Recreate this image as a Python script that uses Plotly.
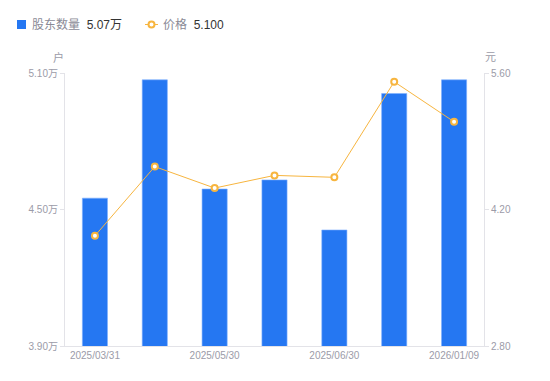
import plotly.graph_objects as go

dates = ["2025/03/31", "2025/04/30", "2025/05/30", "2025/06/20",
         "2025/06/30", "2025/09/30", "2026/01/09"]
holders_wan = [4.55, 5.07, 4.59, 4.63, 4.41, 5.01, 5.07]
price = [3.93, 4.64, 4.42, 4.55, 4.53, 5.51, 5.10]

left_ticks = [3.90, 4.50, 5.10]
left_ticktext = ["3.90万", "4.50万", "5.10万"]
right_ticks = [2.80, 4.20, 5.60]
right_ticktext = ["2.80", "4.20", "5.60"]
x_tickvals = ["2025/03/31", "2025/05/30", "2025/06/30", "2026/01/09"]

legend_holders = "股东数量"
legend_holders_val = "5.07万"
legend_price = "价格"
legend_price_val = "5.100"

BLUE = "#2577f2"
ORANGE = "#f7b53f"
GRAY = "#9b9ba8"
AXIS = "#e3e3e8"
FONT = "Liberation Sans, Noto Sans CJK SC, sans-serif"

W, H = 550, 381
ML, MR, MT, MB = 65, 66, 73, 35
PW, PH = W - ML - MR, H - MT - MB


def px_x(px):
    return (px - ML) / PW


def px_y(py):
    return (H - MB - py) / PH


fig = go.Figure()
fig.add_trace(go.Bar(
    x=dates, y=holders_wan, name=legend_holders,
    marker=dict(color=BLUE, line=dict(color="#7fb0ff", width=0.6)),
    width=0.42, yaxis="y",
))
fig.add_trace(go.Scatter(
    x=dates, y=price, name=legend_price,
    mode="lines+markers",
    line=dict(color=ORANGE, width=1),
    marker=dict(size=6, color="white", line=dict(color=ORANGE, width=2)),
    yaxis="y2",
))

ly = 24.5
shapes = [
    dict(type="rect", xref="paper", yref="paper",
         x0=px_x(17), x1=px_x(26), y0=px_y(29), y1=px_y(20),
         fillcolor=BLUE, line=dict(width=0)),
    dict(type="line", xref="paper", yref="paper",
         x0=px_x(145), x1=px_x(158), y0=px_y(ly), y1=px_y(ly),
         line=dict(color=ORANGE, width=1)),
    dict(type="circle", xref="paper", yref="paper",
         xsizemode="pixel", ysizemode="pixel",
         xanchor=px_x(151.5), yanchor=px_y(ly), x0=-3, x1=3, y0=-3, y1=3,
         fillcolor="white", line=dict(color=ORANGE, width=2)),
]

annotations = [
    dict(text=f"{legend_holders}  <span style='color:#333333'>{legend_holders_val}</span>",
         xref="paper", yref="paper", x=px_x(30), y=px_y(ly), xanchor="left", yanchor="middle",
         showarrow=False, font=dict(size=12, color="#8a8a96")),
    dict(text=f"{legend_price}  <span style='color:#333333'>{legend_price_val}</span>",
         xref="paper", yref="paper", x=px_x(161), y=px_y(ly), xanchor="left", yanchor="middle",
         showarrow=False, font=dict(size=12, color="#8a8a96")),
    dict(text="户", xref="paper", yref="paper", x=px_x(58), y=px_y(57), xanchor="center",
         yanchor="middle", showarrow=False, font=dict(size=11, color=GRAY)),
    dict(text="元", xref="paper", yref="paper", x=px_x(490), y=px_y(57), xanchor="center",
         yanchor="middle", showarrow=False, font=dict(size=11, color=GRAY)),
]

fig.update_layout(
    width=W, height=H,
    margin=dict(l=ML, r=MR, t=MT, b=MB),
    paper_bgcolor="white", plot_bgcolor="white",
    font=dict(family=FONT, size=10, color=GRAY),
    showlegend=False,
    bargap=0.5,
    xaxis=dict(
        type="category", tickmode="array", tickvals=x_tickvals,
        showline=True, linecolor=AXIS, linewidth=1,
        ticks="", showgrid=False, tickfont=dict(size=10, color=GRAY),
    ),
    yaxis=dict(
        range=[3.90, 5.10], tickmode="array", tickvals=left_ticks, ticktext=left_ticktext,
        showline=True, linecolor=AXIS, linewidth=1, ticks="outside", ticklen=4,
        tickcolor=AXIS, showgrid=False, zeroline=False, tickfont=dict(size=10, color=GRAY),
    ),
    yaxis2=dict(
        range=[2.80, 5.60], tickmode="array", tickvals=right_ticks, ticktext=right_ticktext,
        overlaying="y", side="right",
        showline=True, linecolor=AXIS, linewidth=1, ticks="outside", ticklen=4,
        tickcolor=AXIS, showgrid=False, zeroline=False, tickfont=dict(size=10, color=GRAY),
    ),
    shapes=shapes,
    annotations=annotations,
)

fig.write_html("out.html", config={"displayModeBar": False},
               post_script="document.body.style.margin='0';")
